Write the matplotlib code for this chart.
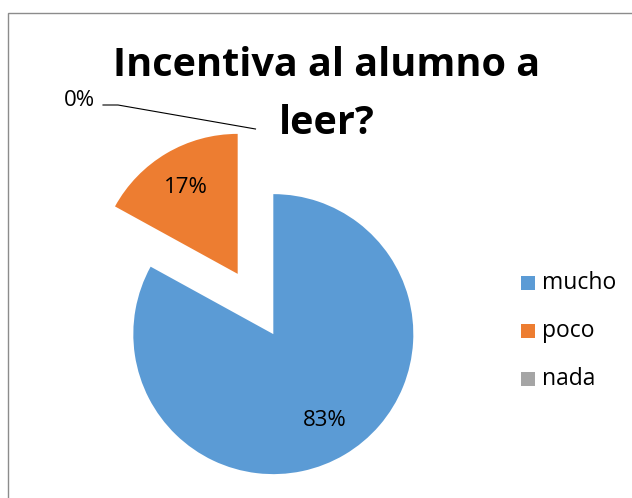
import matplotlib
matplotlib.use("Agg")
import numpy as np
import matplotlib.pyplot as plt
from matplotlib.patches import Rectangle

categories = ["mucho", "poco", "nada"]
values = [83, 17, 0]
colors = ["#5B9BD5", "#ED7D31", "#A5A5A5"]
title_lines = ["Incentiva al alumno a", "leer?"]

plt.rcParams['font.family'] = ['Open Sans', 'DejaVu Sans']

W, H = 632, 498
fig = plt.figure(figsize=(W / 100, H / 100), dpi=100)

# chart border (cut off at right/bottom like the screenshot)
fig.patches.append(Rectangle((8 / W, -0.1), 1.2, (H - 13) / H + 0.1,
                             transform=fig.transFigure, fill=False,
                             edgecolor="#8c8c8c", linewidth=1.0))

ax = fig.add_axes([0, 0, 1, 1])
cx, cy, r = 255.5, 304, 140.0

wedges, texts = ax.pie(values, colors=colors, startangle=90, counterclock=False,
                       explode=[0.25] * 3, radius=1,
                       wedgeprops=dict(linewidth=0))

for w, v in zip(wedges, values):
    if v == 0:
        continue
    ang = np.deg2rad((w.theta1 + w.theta2) / 2)
    x0, y0 = w.center
    ax.text(x0 + 0.72 * np.cos(ang), y0 + 0.72 * np.sin(ang), f"{v}%",
            ha="center", va="center", fontsize=16, color="black")

# 0% label with leader line
zero = wedges[2]
zx, zy = zero.center[0], zero.center[1] + 1.0
ax.text((79 - cx) / r, (cy - 101) / r, "0%", ha="center", va="center",
        fontsize=16, color="black")
ax.plot([(103 - cx) / r, (118 - cx) / r, zx], [(cy - 105) / r, (cy - 105) / r, zy],
        color="black", linewidth=0.8)

ax.set_xlim(-cx / r, (W - cx) / r)
ax.set_ylim((cy - H) / r, cy / r)
ax.set_aspect("equal")
ax.axis("off")

for i, line in enumerate(title_lines):
    fig.text(327 / W, 1 - (66 + 57 * i) / H, line, ha="center", va="center",
             fontsize=28.5, fontweight="bold")

# legend
for i, (name, col) in enumerate(zip(categories, colors)):
    y = 283 + i * 48
    fig.patches.append(Rectangle((521 / W, 1 - (y + 7) / H), 14 / W, 14 / H,
                                 transform=fig.transFigure, facecolor=col,
                                 edgecolor="none"))
    fig.text(542 / W, 1 - y / H, name, ha="left", va="center", fontsize=16.5,
             color="black")

fig.savefig("out.png", dpi=100, facecolor="white")
